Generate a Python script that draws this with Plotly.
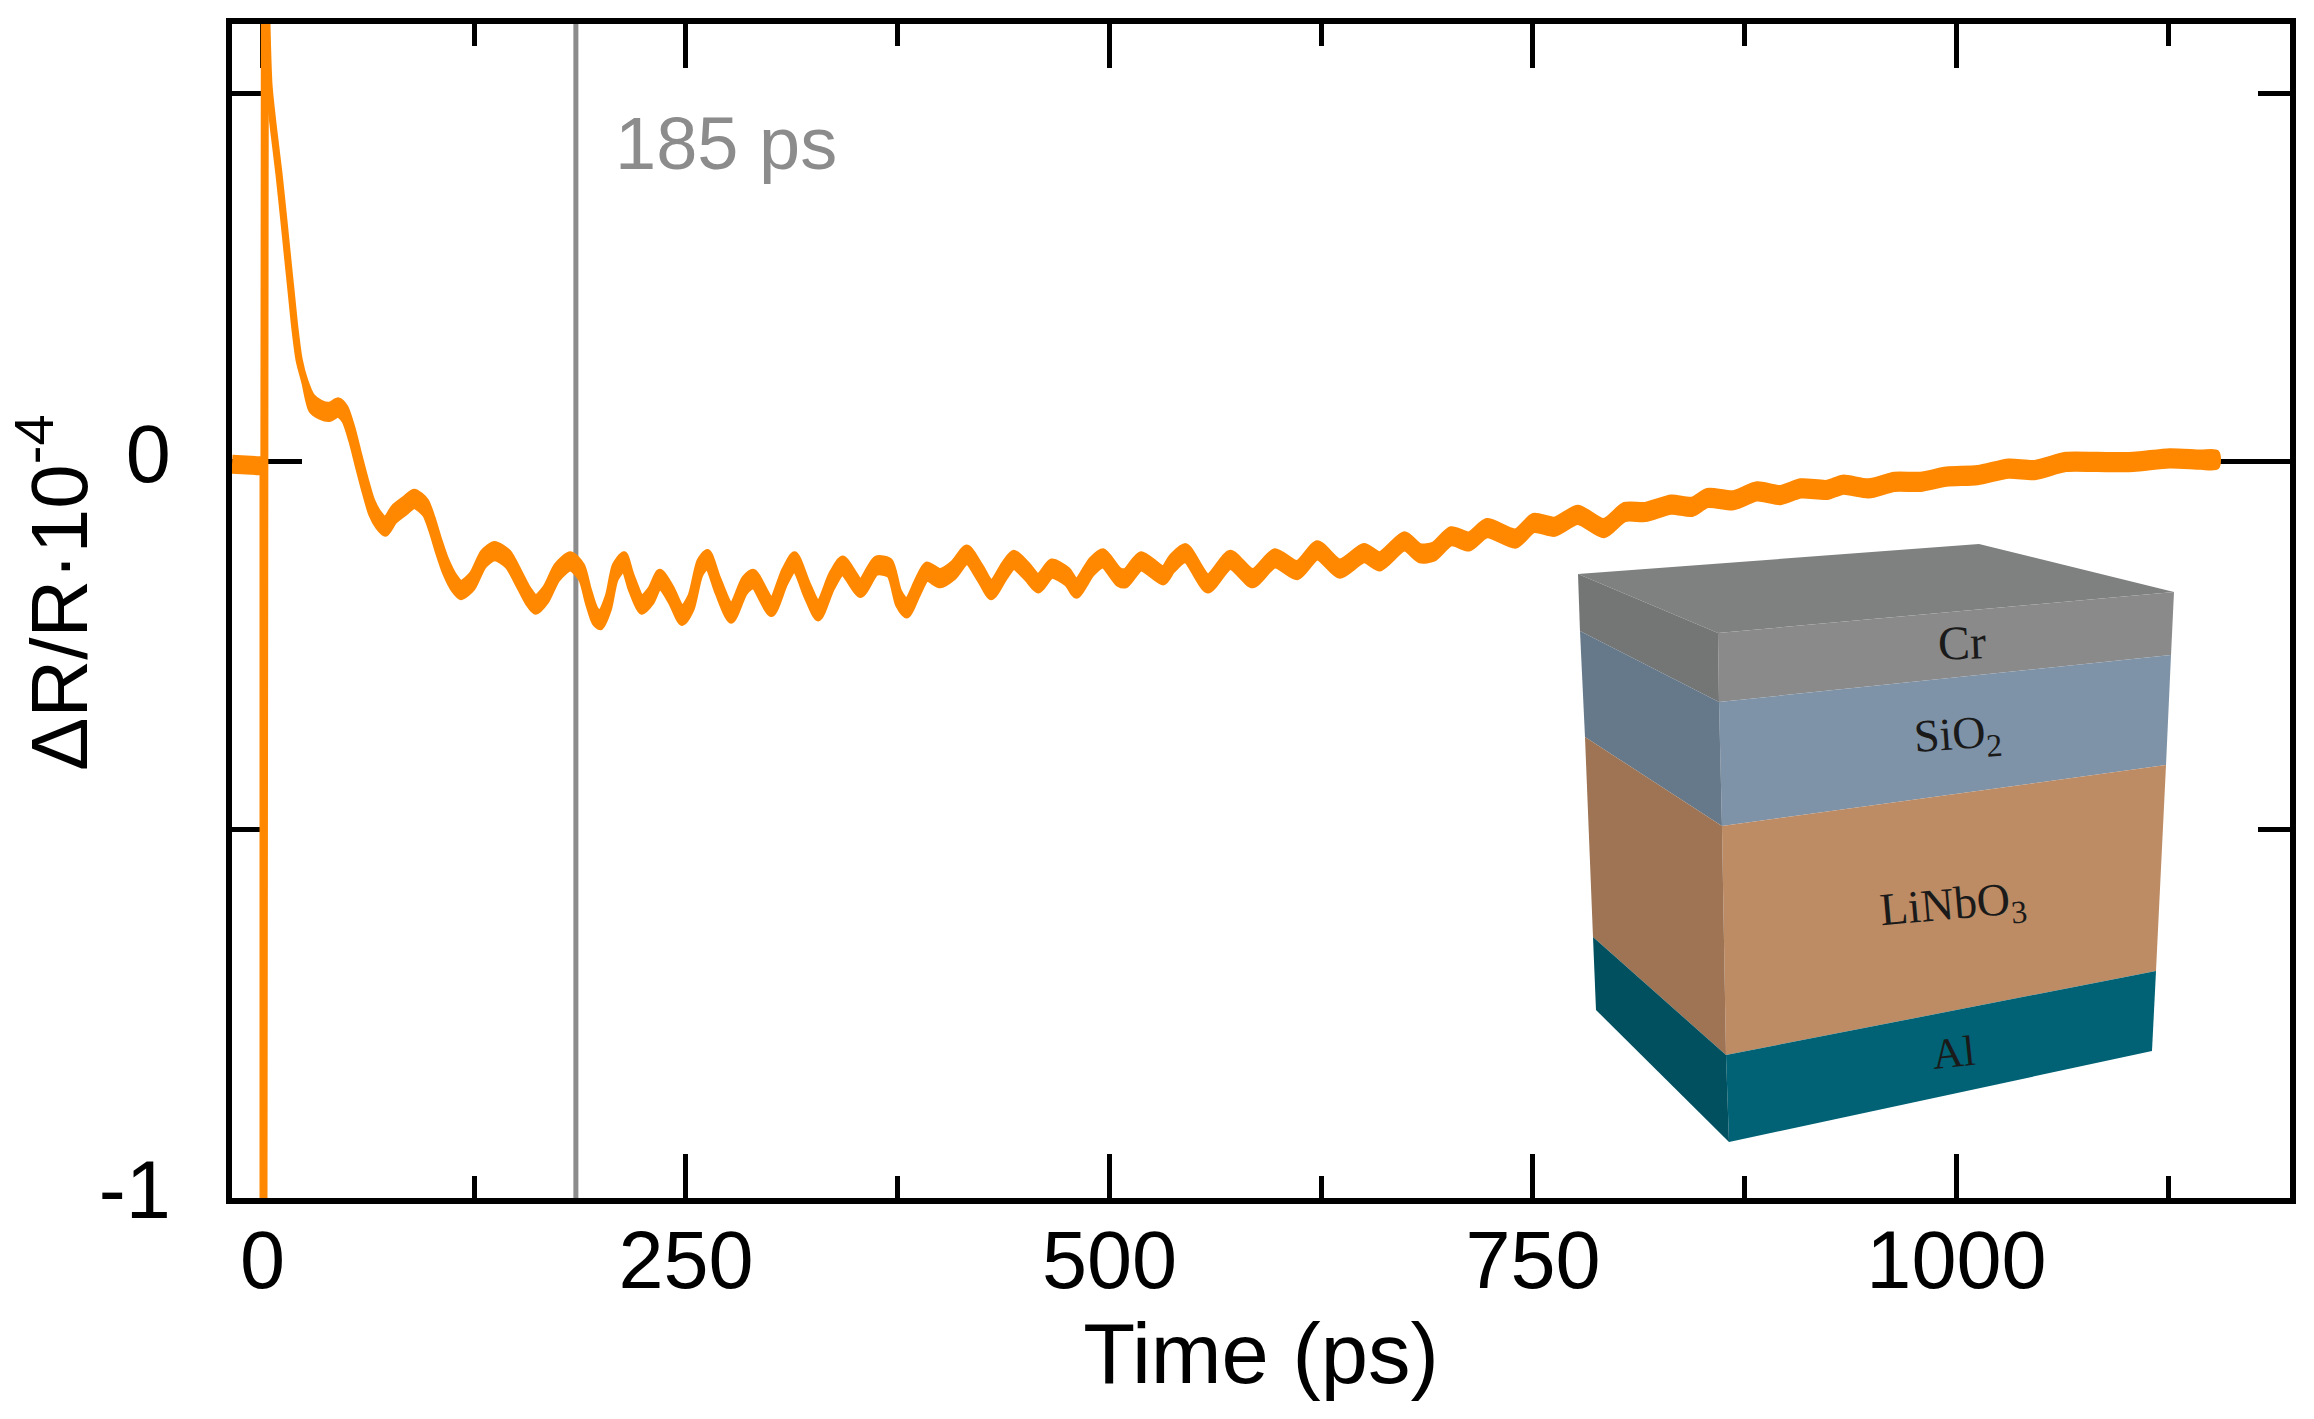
import plotly.graph_objects as go

# trace values (time in ps, dR/R in units of 1e-4)
baseline_ps = [-18, -14, -8, -3, 0.6]
baseline_val = [-0.003, -0.002, -0.004, -0.005, -0.005]

spike_ps = [0.6, 0.6, 1.4, 2.6]
spike_val = [-0.005, -1.0, 0.6, 0.598]

time_ps = [
    2.6, 3.9, 6.6, 9.7, 12.4, 15.0, 17.1, 19.2, 21.6, 25.0,
    29.0, 34.2, 39.5, 44.8, 48.7, 52.7, 56.6, 60.6, 64.5, 68.5, 72.5, 77.7, 84.3, 89.6, 96.2,
    100.1, 104.1, 108.0, 113.3, 117.2, 123.8, 130.4, 137.0, 144.9, 151.5, 156.8, 161.3, 167.3,
    173.9, 181.8, 188.4, 192.3, 196.3, 199.5, 204.2, 208.2, 213.4, 217.4, 224.0, 229.2, 234.5,
    241.1, 247.7, 253.0, 258.2, 262.7, 268.8, 276.7, 284.6, 289.8, 300.4, 308.3, 314.1, 321.5,
    328.1, 336.0, 342.5, 353.1, 362.3, 370.2, 375.5, 380.3, 386.8, 392.1, 400.0, 407.9, 415.8,
    423.7, 430.3, 438.2, 443.5, 451.4, 458.0, 465.9, 475.1, 480.4, 489.6, 496.2, 505.4, 509.4,
    518.6, 531.8, 537.0, 544.9, 558.1, 571.3, 584.5, 597.6, 610.8, 622.7, 635.9, 650.3, 659.6,
    674.1, 683.3, 691.2, 701.7, 712.3, 722.8, 739.7, 750.4, 762.7, 776.5, 791.8, 804.1, 816.3,
    831.6, 843.9, 853.1, 868.4, 882.2, 896.0, 908.2, 923.6, 932.8, 948.1, 963.4, 978.7, 994.1,
    1012.5, 1030.8, 1046.1, 1064.5, 1082.9, 1104.4, 1125.8, 1144.2, 1153.4,
]
signal = [
    0.598, 0.510, 0.451, 0.392, 0.333, 0.274, 0.227, 0.180, 0.139, 0.109,
    0.080, 0.071, 0.068, 0.074, 0.065, 0.038, 0.003, -0.032, -0.062, -0.079, -0.088, -0.071, -0.059, -0.050, -0.062,
    -0.085, -0.115, -0.141, -0.165, -0.174, -0.162, -0.132, -0.121, -0.132, -0.159, -0.182, -0.194, -0.180,
    -0.150, -0.135, -0.150, -0.182, -0.209, -0.215, -0.191, -0.150, -0.135, -0.162, -0.194, -0.182, -0.159,
    -0.180, -0.209, -0.191, -0.144, -0.132, -0.168, -0.206, -0.168, -0.159, -0.197, -0.156, -0.135, -0.174,
    -0.203, -0.162, -0.141, -0.171, -0.141, -0.144, -0.185, -0.199, -0.170, -0.149, -0.158, -0.147, -0.126,
    -0.151, -0.174, -0.147, -0.133, -0.149, -0.165, -0.145, -0.156, -0.172, -0.142, -0.131, -0.156, -0.158,
    -0.135, -0.154, -0.138, -0.124, -0.165, -0.133, -0.158, -0.131, -0.147, -0.120, -0.145, -0.124, -0.135,
    -0.108, -0.124, -0.122, -0.101, -0.108, -0.090, -0.104, -0.083, -0.088, -0.072, -0.090, -0.068, -0.068,
    -0.058, -0.061, -0.049, -0.052, -0.040, -0.045, -0.036, -0.038, -0.031, -0.036, -0.027, -0.027, -0.020,
    -0.018, -0.009, -0.011, 0.000, 0.000, 0.000, 0.005, 0.003, 0.003,
]
# half height of the noise band around the trace
noise_steep = [0.001] * 10
noise_band = [0.009] * (len(time_ps) - 10)
noise = noise_steep + noise_band

marker_ps = [185, 185]
marker_val = [-1.0, 0.595]

x_ticks = [0, 250, 500, 750, 1000]
y_ticks = [0, -1]
y_tick_text = ["0", "-1"]

ORANGE = "#ff8800"
GREY = "#8c8c8c"
INK = "#000000"
SANS = '"Liberation Sans", Arial, sans-serif'
SERIF = '"Liberation Serif", "Times New Roman", serif'

WIDTH, HEIGHT = 2314, 1419
LEFT, RIGHT, TOP, BOTTOM = 232, 2290, 24, 1198

# layered stack sketch, corners in picture pixels, (colour, polygon)
stack_faces = [
    ("#7f8080", [(1578, 574), (1979, 544), (2174, 592), (1718, 633)]),
    ("#8a8a8a", [(1718, 633), (2174, 592), (2171, 655), (1719, 702)]),
    ("#747575", [(1578, 574), (1718, 633), (1719, 702), (1580, 631)]),
    ("#7f93a8", [(1719, 702), (2171, 655), (2166, 765), (1722, 826)]),
    ("#66798a", [(1580, 631), (1719, 702), (1722, 826), (1585, 737)]),
    ("#bd8c65", [(1722, 826), (2166, 765), (2156, 971), (1726, 1055)]),
    ("#9e7454", [(1585, 737), (1722, 826), (1726, 1055), (1593, 937)]),
    ("#006274", [(1726, 1055), (2156, 971), (2152, 1051), (1729, 1142)]),
    ("#005060", [(1593, 937), (1726, 1055), (1729, 1142), (1596, 1010)]),
]
stack_labels = [
    ("Cr", 1962, 642, 48, -2),
    ("SiO<sub>2</sub>", 1958, 737, 46, -4),
    ("LiNbO<sub>3</sub>", 1953, 907, 46, -5),
    ("Al", 1953, 1052, 43, -6),
]


def px_x(x):
    return (x - LEFT) / (RIGHT - LEFT)


def px_y(y):
    return (BOTTOM - y) / (BOTTOM - TOP)


def face_path(corners):
    pts = [f"{px_x(x):.5f},{px_y(y):.5f}" for x, y in corners]
    return "M" + " L".join(pts) + " Z"


fig = go.Figure()
fig.add_scatter(x=marker_ps, y=marker_val, mode="lines", line=dict(color=GREY, width=5),
                showlegend=False, hoverinfo="skip")

upper = [v + n for v, n in zip(signal, noise)]
lower = [v - n for v, n in zip(signal, noise)]
fig.add_scatter(x=time_ps + time_ps[::-1], y=upper + lower[::-1], mode="lines", fill="toself",
                fillcolor=ORANGE, line=dict(color=ORANGE, width=7, shape="spline", smoothing=0.7),
                showlegend=False, hoverinfo="skip")
fig.add_scatter(x=baseline_ps, y=baseline_val, mode="lines", line=dict(color=ORANGE, width=19),
                showlegend=False, hoverinfo="skip")
fig.add_scatter(x=spike_ps, y=spike_val, mode="lines", line=dict(color=ORANGE, width=8),
                showlegend=False, hoverinfo="skip")

fig.update_layout(
    template="none",
    width=WIDTH,
    height=HEIGHT,
    paper_bgcolor="#ffffff",
    plot_bgcolor="#ffffff",
    font=dict(family=SANS, color=INK),
    margin=dict(l=LEFT, r=WIDTH - RIGHT, t=TOP, b=HEIGHT - BOTTOM, autoexpand=False),
    showlegend=False,
)
fig.update_xaxes(
    range=[-18, 1196.9], showgrid=False, zeroline=False, showline=True, linecolor=INK, linewidth=6,
    mirror="ticks", ticks="inside", ticklen=44, tickwidth=5, tickcolor=INK, layer="below traces",
    tickmode="array", tickvals=x_ticks, tickfont=dict(size=81, family=SANS), ticklabelstandoff=-13,
    minor=dict(ticks="inside", ticklen=22, tickwidth=5, tickcolor=INK, tickmode="linear",
               tick0=0, dtick=125, showgrid=False),
    title=dict(text="Time (ps)", font=dict(size=85, family=SANS), standoff=21),
)
fig.update_yaxes(
    range=[-1, 0.595], showgrid=False, zeroline=False, showline=True, linecolor=INK, linewidth=6,
    mirror="ticks", ticks="inside", ticklen=70, tickwidth=5, tickcolor=INK, layer="below traces",
    tickmode="array", tickvals=y_ticks, ticktext=y_tick_text, tickfont=dict(size=81, family=SANS),
    ticklabelstandoff=39, ticklabelshift=-8,
    minor=dict(ticks="inside", ticklen=32, tickwidth=5, tickcolor=INK, tickmode="linear",
               tick0=0, dtick=0.5, showgrid=False),
)

for colour, corners in stack_faces:
    fig.add_shape(type="path", path=face_path(corners), xref="paper", yref="paper",
                  fillcolor=colour, line=dict(width=0), layer="above")

for text, x, y, size, angle in stack_labels:
    fig.add_annotation(text=text, x=px_x(x), y=px_y(y), xref="paper", yref="paper", showarrow=False,
                       textangle=angle, xanchor="center", yanchor="middle",
                       font=dict(family=SERIF, size=size, color="#1a1a1a"))

fig.add_annotation(text="185 ps", x=207, y=0.433, xref="x", yref="y", showarrow=False,
                   xanchor="left", yanchor="middle", font=dict(family=SANS, size=74, color=GREY))
fig.add_annotation(text="ΔR/R·10<sup>-4</sup>", x=px_x(53), y=px_y(593), xref="paper", yref="paper",
                   showarrow=False, textangle=-90, xanchor="center", yanchor="middle",
                   font=dict(family=SANS, size=80, color=INK))

# the page keeps the figure flush with the window corner
fig.write_html("out.html", config=dict(displayModeBar=False),
               post_script="document.body.style.margin='0';")
